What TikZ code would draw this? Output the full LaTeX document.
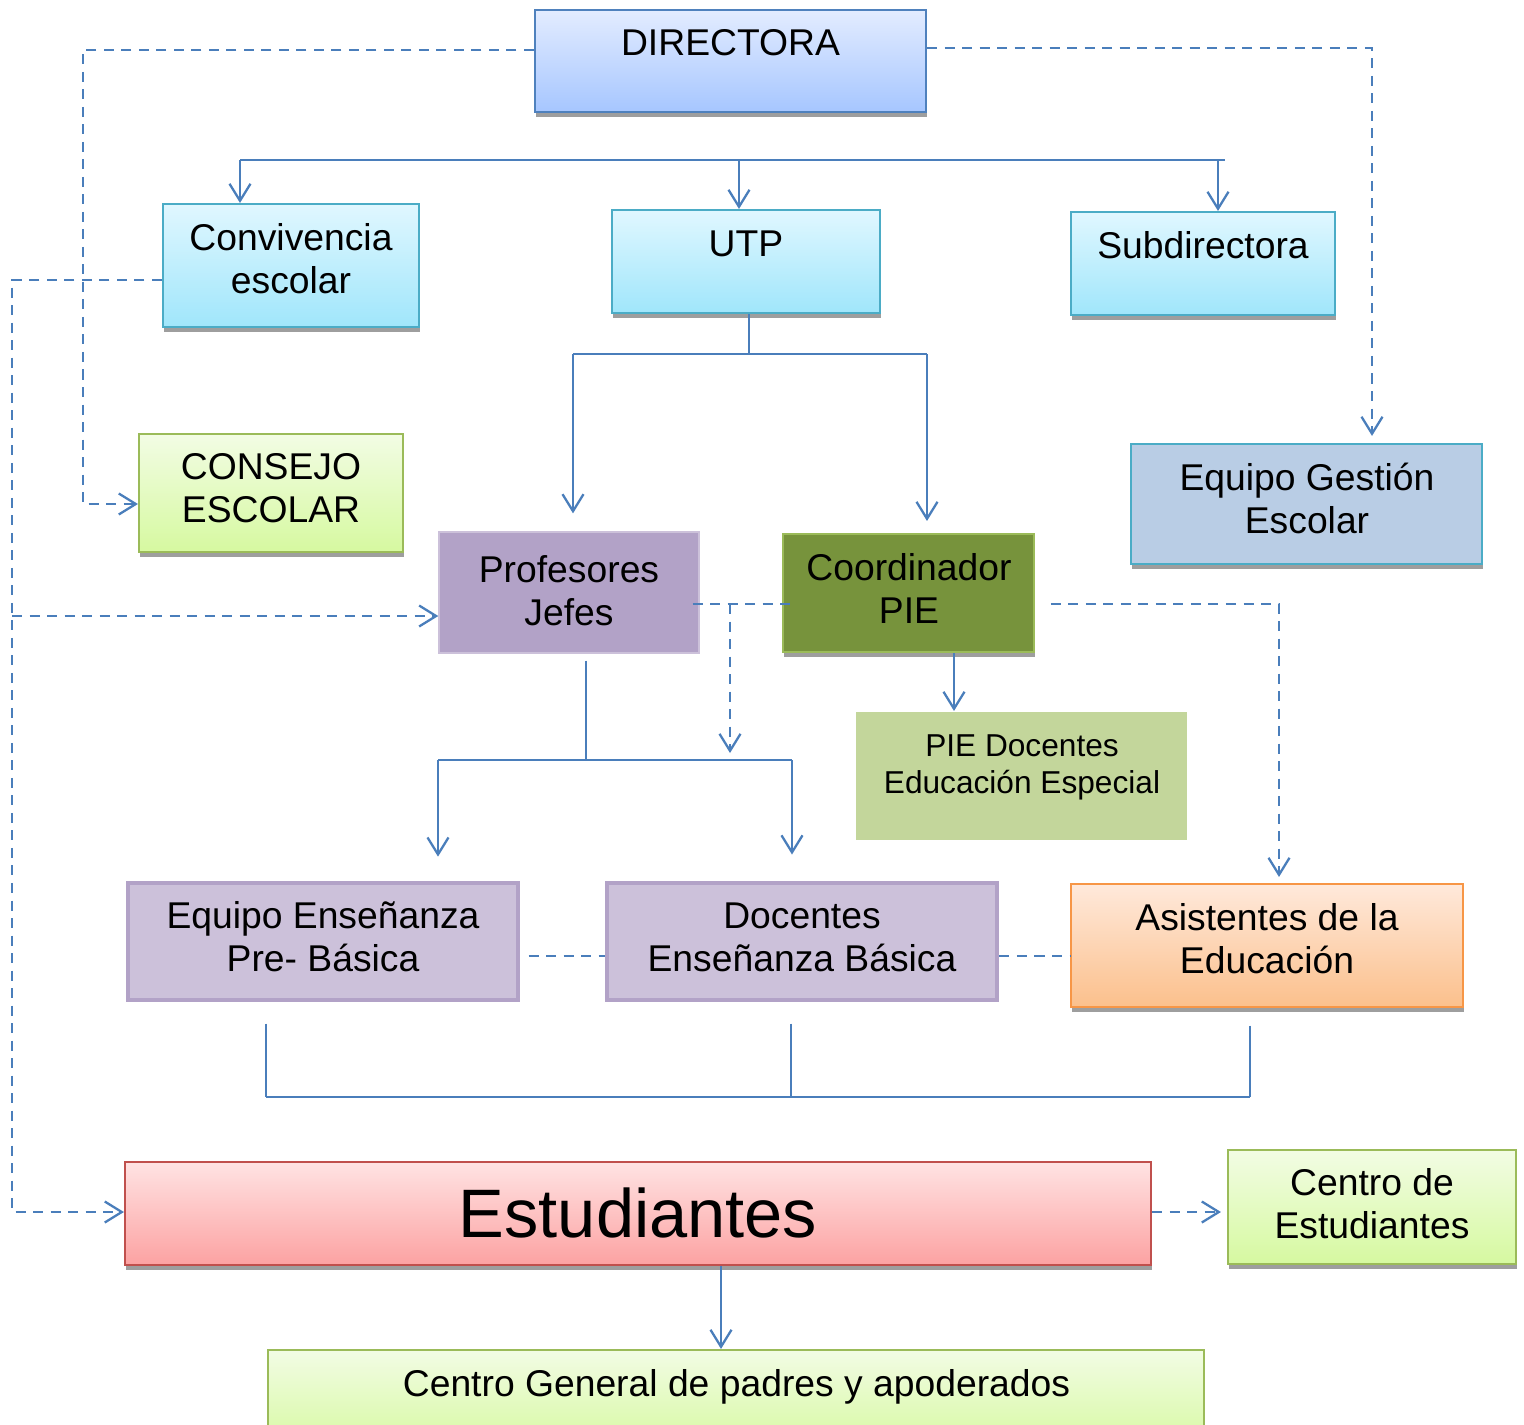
\documentclass[tikz,border=0pt]{standalone}
\usepackage{fontspec}
\setmainfont{Liberation Sans}
\usetikzlibrary{arrows.meta,fit,shadows}
\definecolor{lnk}{HTML}{4A7EBB}
\definecolor{dirT}{HTML}{E3ECFF}\definecolor{dirB}{HTML}{A6C6FF}\definecolor{dirD}{HTML}{4F81BD}
\definecolor{cyT}{HTML}{E0F7FF}\definecolor{cyB}{HTML}{A0E6FB}\definecolor{cyD}{HTML}{4BACC6}
\definecolor{grT}{HTML}{F2FCE4}\definecolor{grB}{HTML}{D6F9A0}\definecolor{grD}{HTML}{9BBB59}
\definecolor{gest}{HTML}{B9CDE5}
\definecolor{prof}{HTML}{B2A2C7}\definecolor{lila}{HTML}{CCC1DA}
\definecolor{olive}{HTML}{77933C}\definecolor{pie}{HTML}{C3D69B}
\definecolor{orT}{HTML}{FFE9DB}\definecolor{orB}{HTML}{FBC08C}\definecolor{orD}{HTML}{F79646}
\definecolor{rdT}{HTML}{FFE3E3}\definecolor{rdB}{HTML}{FCA2A2}\definecolor{rdD}{HTML}{C0504D}
\tikzset{
  box/.style={rectangle, inner sep=0pt, line width=0.6pt},
  sh/.style={drop shadow={shadow xshift=0.2pt, shadow yshift=-1.3pt, fill=black!38, opacity=1}},
  bluebox/.style={box, sh, draw=dirD, top color=dirT, bottom color=dirB},
  cyanbox/.style={box, sh, draw=cyD, top color=cyT, bottom color=cyB},
  greenbox/.style={box, sh, draw=grD, top color=grT, bottom color=grB},
  lilabox/.style={box, draw=prof, fill=lila, line width=1.4pt},
  txt/.style={inner sep=0pt, anchor=base, align=center, font=\fontsize{10.6}{12.2}\selectfont},
  conn/.style={draw=lnk, line width=0.65pt},
  arr/.style={conn, -{Straight Barb[length=1.7mm,width=2.1mm]}},
  dsh/.style={conn, dash pattern=on 1mm off 0.75mm},
  darr/.style={dsh, -{Straight Barb[length=1.7mm,width=2.1mm]}},
}
\begin{document}
\begin{tikzpicture}[x=0.01cm, y=-0.01cm]
\clip (0,0) rectangle (1524,1424);
\fill[white] (0,0) rectangle (1524,1424);

% boxes
\node[bluebox, fit={(535,10) (926,112)}] (dir) {};
\node[cyanbox, fit={(163,204) (419,327)}] (conv) {};
\node[cyanbox, fit={(612,210) (880,313)}] (utp) {};
\node[cyanbox, fit={(1071,212) (1335,315)}] (sub) {};
\node[greenbox, fit={(139,434) (403,552)}] (cons) {};
\node[box, sh, draw=cyD, fill=gest, fit={(1131,444) (1482,564)}] (egest) {};
\node[box, draw=lila, fill=prof, line width=0.4pt, fit={(439,532) (699,653)}] (prof) {};
\node[box, sh, draw=grD, fill=olive, fit={(783,534) (1034,652)}] (coord) {};
\node[box, fill=pie, fit={(856,712) (1187,840)}] (pie) {};
\node[lilabox, fit={(128,883) (518,1000)}] (pre) {};
\node[lilabox, fit={(607,883) (997,1000)}] (doc) {};
\node[box, sh, draw=orD, top color=orT, bottom color=orB, fit={(1071,884) (1463,1007)}] (asis) {};
\node[box, sh, draw=rdD, top color=rdT, bottom color=rdB, fit={(125,1162) (1151,1265)}] (est) {};
\node[greenbox, fit={(1228,1150) (1516,1264)}] (cest) {};
\node[greenbox, fit={(268,1350) (1204,1450)}] (cgen) {};

% texts (base anchor = baseline of last line)
\node[txt] (tdir) at (730.5,55) {DIRECTORA};
\node[txt] (tconv) at (291,293) {Convivencia\\escolar};
\node[txt] (tutp) at (746,256) {UTP};
\node[txt] (tsub) at (1203,258) {Subdirectora};
\node[txt] (tcons) at (271,522) {CONSEJO\\ESCOLAR};
\node[txt] (tgest) at (1307,533) {Equipo Gestión\\Escolar};
\node[txt] (tprof) at (569,625) {Profesores\\Jefes};
\node[txt] (tcoord) at (909,623) {Coordinador\\PIE};
\node[txt, font=\fontsize{9}{10.5}\selectfont] (tpie) at (1022,793) {PIE Docentes\\Educación Especial};
\node[txt] (tpre) at (323,971) {Equipo Enseñanza\\Pre- Básica};
\node[txt] (tdoc) at (802,971) {Docentes\\Enseñanza Básica};
\node[txt] (tasis) at (1267,973) {Asistentes de la\\Educación};
\node[txt, font=\fontsize{19.5}{22}\selectfont] (test) at (638,1237) {Estudiantes};
\node[txt] (tcest) at (1372,1238) {Centro de\\Estudiantes};
\node[txt, font=\fontsize{10.6}{12.5}\selectfont] (tcgen) at (736.5,1396) {Centro General de padres y apoderados};

% solid connectors
\coordinate (b1) at (240,160); \coordinate (b2) at (739,160);
\coordinate (b3) at (1218,160); \coordinate (b4) at (1225,160);
\draw[conn] (b1) -- (b4);
\draw[arr] (b1) -- (b1 |- conv.north);
\draw[arr] (b2) -- (b2 |- utp.north);
\draw[arr] (b3) -- (b3 |- sub.north);

\coordinate (u1) at (749,354); \coordinate (u2) at (573,354); \coordinate (u3) at (927,354);
\draw[conn] (u1 |- utp.south) -- (u1);
\draw[conn] (u2) -- (u3);
\draw[arr, shorten >=5.1pt] (u2) -- (u2 |- prof.north);
\draw[arr, shorten >=3.4pt] (u3) -- (u3 |- coord.north);

\coordinate (p1) at (586,760); \coordinate (p2) at (438,760); \coordinate (p3) at (792,760);
\draw[conn, shorten <=2pt] (p1 |- prof.south) -- (p1);
\draw[conn] (p2) -- (p3);
\draw[arr, shorten >=6.8pt] (p2) -- (p2 |- pre.north);
\draw[arr, shorten >=7.4pt] (p3) -- (p3 |- doc.north);

\coordinate (c1) at (954,700);
\draw[arr] (c1 |- coord.south) -- (c1 |- pie.north);

\coordinate (k1) at (266,1097); \coordinate (k2) at (791,1097); \coordinate (k3) at (1250,1097);
\draw[conn, shorten <=6pt] (k1 |- pre.south) -- (k1);
\draw[conn, shorten <=6pt] (k2 |- doc.south) -- (k2);
\draw[conn, shorten <=5pt] (k3 |- asis.south) -- (k3);
\draw[conn] (k1) -- (k3);

\coordinate (e1) at (721,1300);
\draw[arr] (e1 |- est.south) -- (e1 |- cgen.north);

% dashed connectors
\coordinate (d1) at (83,50); \coordinate (d2) at (83,504);
\draw[darr] (dir.west |- d1) -- (d1) -- (d2) -- (d2 -| cons.west);
\coordinate (d3) at (1372,48);
\draw[darr, shorten >=2pt] (dir.east |- d3) -- (d3) -- (d3 |- egest.north);
\coordinate (d4) at (12,280); \coordinate (d5) at (12,616); \coordinate (d6) at (12,1212);
\draw[darr] (conv.west |- d4) -- (d4) -- (d6) -- (d6 -| est.west);
\draw[darr] (d5) -- (d5 -| prof.west);
\coordinate (d7) at (730,604); \coordinate (d8) at (730,753);
\draw[dsh, shorten <=-2pt, shorten >=-3pt] (prof.east |- d7) -- (coord.west |- d7);
\draw[darr] (d7) -- (d8);
\coordinate (d9) at (1279,604);
\draw[darr, shorten <=4.5pt, shorten >=1.7pt] (coord.east |- d9) -- (d9) -- (d9 |- asis.north);
\coordinate (d10) at (560,956);
\draw[dsh, line width=0.5pt, shorten <=2.3pt] (pre.east |- d10) -- (doc.west |- d10);
\draw[dsh, line width=0.5pt] (doc.east |- d10) -- (asis.west |- d10);
\draw[darr, shorten >=1.7pt] (est.east |- d6) -- (cest.west |- d6);
\end{tikzpicture}
\end{document}
